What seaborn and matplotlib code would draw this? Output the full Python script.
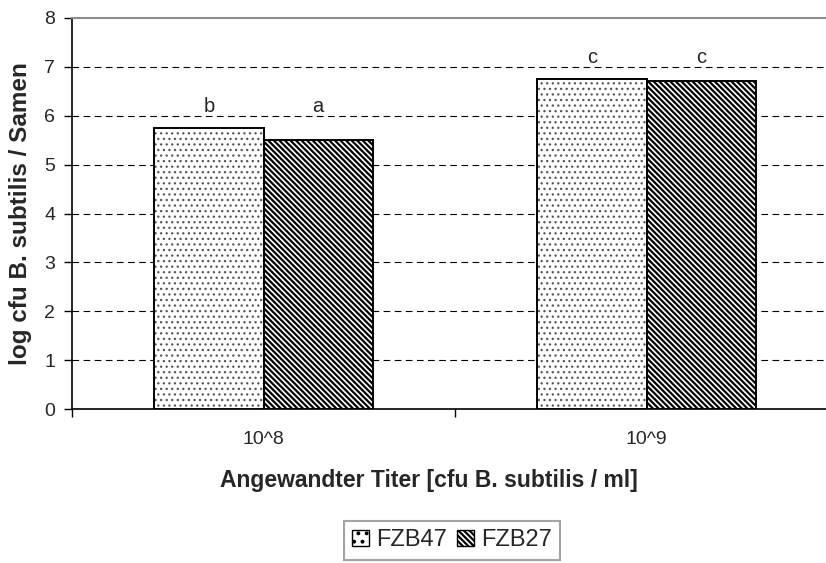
import pandas as pd
import matplotlib.pyplot as plt
import seaborn as sns
from matplotlib.patches import Patch, Rectangle

# Data
titers = ["10^8", "10^9"]
strains = ["FZB47", "FZB27"]
fzb47 = [5.75, 6.75]
fzb27 = [5.50, 6.71]
letters_fzb47 = ["b", "c"]
letters_fzb27 = ["a", "c"]

data = pd.DataFrame({
    "Titer": titers * 2,
    "Stamm": [strains[0]] * 2 + [strains[1]] * 2,
    "Wert": fzb47 + fzb27,
})

sns.set_style("white")
plt.rcParams["font.family"] = ["Liberation Sans", "DejaVu Sans"]
plt.rcParams["hatch.linewidth"] = 1.6

fig = plt.figure(figsize=(8.26, 5.63), dpi=100)
ax = fig.add_axes([72 / 826, 1 - 409 / 563, (838 - 72) / 826, (409 - 18) / 563])

sns.barplot(
    data=data, x="Titer", y="Wert", hue="Stamm",
    order=titers, hue_order=strains,
    palette=["white", "white"], width=0.57, gap=0,
    errorbar=None, legend=False, ax=ax, zorder=3,
)

hatches = {"FZB47": "...", "FZB27": "\\" * 6}
hatch_cols = {"FZB47": "#555555", "FZB27": "black"}
hatch_lw = {"FZB47": 0.9, "FZB27": 1.6}
for cont, strain in zip(ax.containers, strains):
    for bar in cont:
        bar.set_hatch(hatches[strain])
        bar.set_edgecolor(hatch_cols[strain])
        bar.set_linewidth(0)
        if hasattr(bar, "set_hatch_linewidth"):
            bar.set_hatch_linewidth(hatch_lw[strain])
        # black outline on top
        ax.add_patch(Rectangle(bar.get_xy(), bar.get_width(), bar.get_height(),
                               fill=False, edgecolor="black", linewidth=1.4, zorder=4))

# significance letters above each group
group_max = [max(a, b) for a, b in zip(fzb47, fzb27)]
for cont, letters in zip(ax.containers, [letters_fzb47, letters_fzb27]):
    for bar, letter, gm in zip(cont, letters, group_max):
        ax.text(bar.get_x() + bar.get_width() / 2, gm + 0.32, letter,
                ha="center", va="baseline", fontsize=14.5)

ax.set_xlim(-0.5, 1.5)
ax.set_ylim(0, 8)
ax.set_yticks(range(0, 9))
for y in range(1, 8):
    ax.axhline(y, color="black", linestyle=(0, (6, 4)), linewidth=0.8, zorder=1)

ax.set_xticks([0, 1])
ax.set_xticklabels(titers)
ax.set_xticks([-0.5, 0.5, 1.5], minor=True)
ax.tick_params(axis="x", which="major", length=0, pad=16, labelsize=14)
ax.tick_params(axis="x", which="minor", length=6, width=1, color="black", direction="out", bottom=True)
ax.tick_params(axis="y", length=6, width=1, color="black", direction="out", left=True, pad=6, labelsize=14)

for side in ["left", "bottom"]:
    ax.spines[side].set_color("black")
    ax.spines[side].set_linewidth(1.2)
ax.spines["top"].set_color("#8c8c8c")
ax.spines["top"].set_linewidth(1.5)
ax.spines["right"].set_visible(False)

ax.set_xlabel("Angewandter Titer [cfu B. subtilis / ml]", fontsize=16.5, fontweight="bold")
ax.xaxis.set_label_coords((429 - 72) / 766, 1 - (480 - 18) / 391)
ax.xaxis.label.set_va("center")
ax.set_ylabel("log cfu B. subtilis / Samen", fontsize=17.5, fontweight="bold", labelpad=9)

handles = [Patch(facecolor="white", edgecolor="black", hatch="..", label="FZB47"),
           Patch(facecolor="white", edgecolor="black", hatch="\\" * 6, label="FZB27")]
leg = fig.legend(handles=handles, loc="upper left", bbox_to_anchor=(344 / 826, 1 - 521 / 563),
                 ncol=2, frameon=True, fancybox=False, edgecolor="#8c8c8c",
                 fontsize=17, handlelength=0.7, handleheight=0.7, handletextpad=0.32,
                 columnspacing=0.42, borderpad=0.35, borderaxespad=0)
leg.get_frame().set_linewidth(1.5)

fig.savefig("out.png", dpi=100)
